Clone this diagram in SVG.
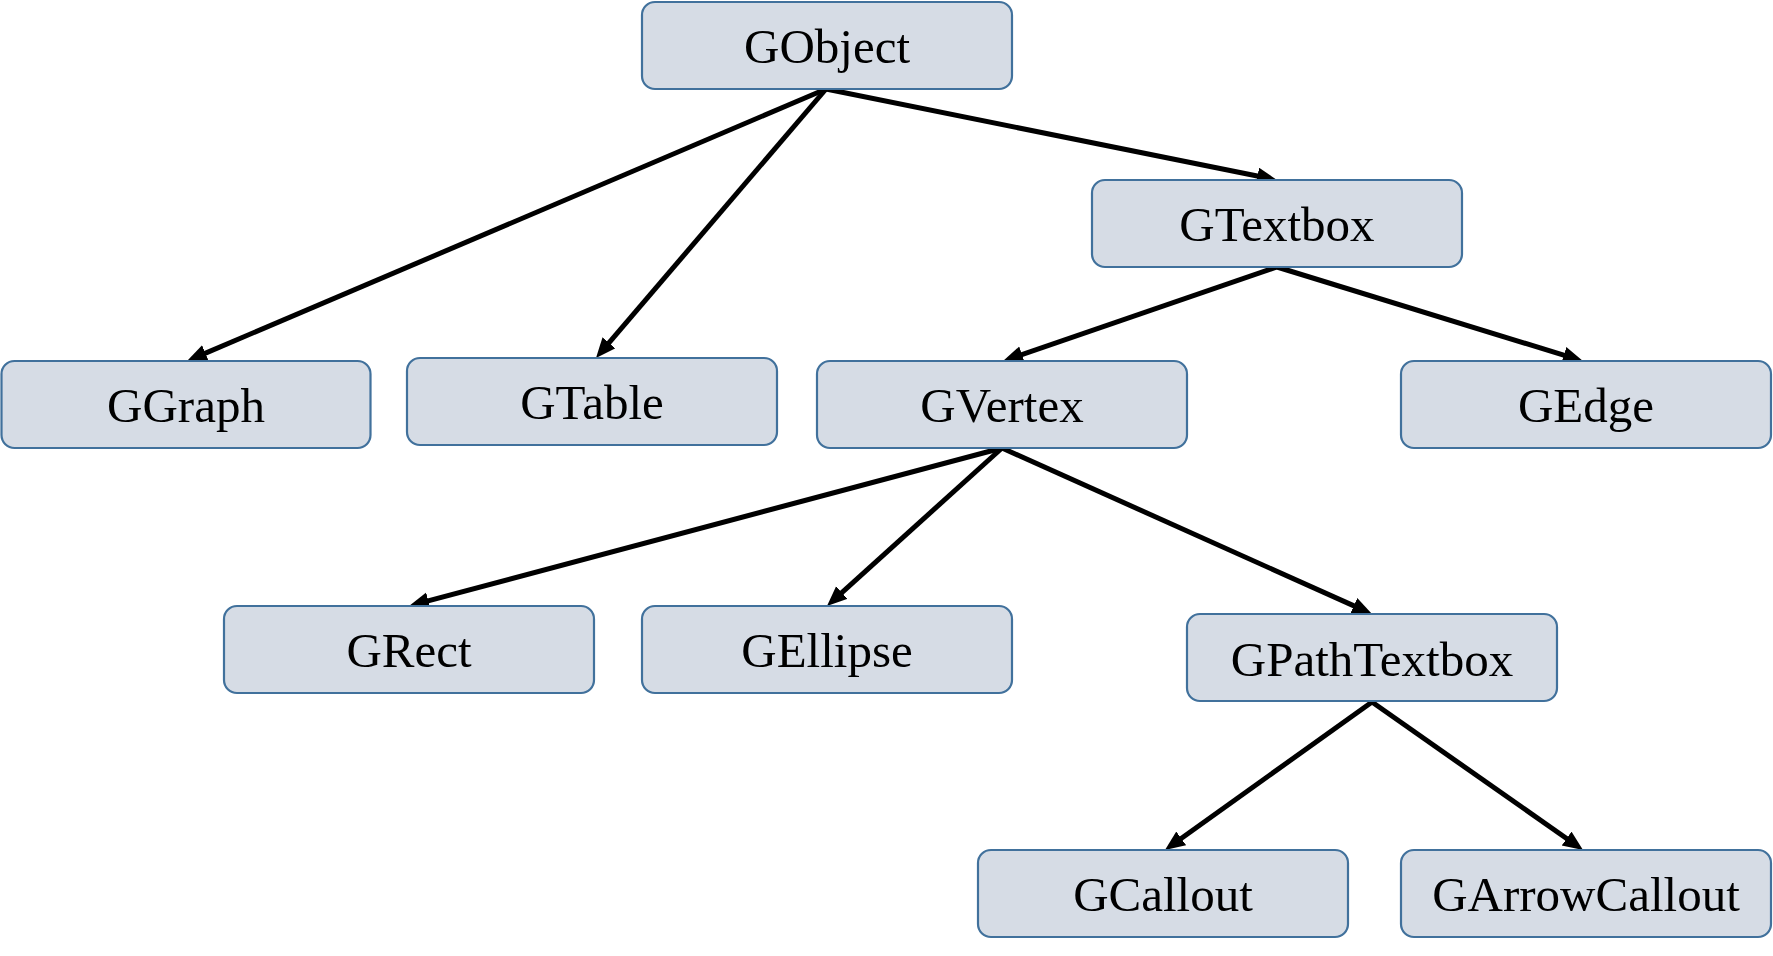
<svg xmlns="http://www.w3.org/2000/svg" width="1773" height="956" viewBox="0 0 1773 956">
<style>
.box{fill:#D6DCE5;stroke:#41719C;stroke-width:2.2}
.lbl{font-family:"Liberation Serif","Times New Roman",serif;font-size:49px;fill:#000;text-anchor:middle}
.edge{stroke:#000;stroke-width:5;fill:none}
</style>
<defs>
<marker id="ah" markerUnits="userSpaceOnUse" markerWidth="22" markerHeight="18" refX="10" refY="8.5" orient="auto">
<path d="M0,0 L20,8.5 L0,17 z" fill="#000"/>
</marker>
</defs>
<rect width="1773" height="956" fill="#fff"/>
<g id="connectors">
<line class="edge" x1="826" y1="89" x2="196.2" y2="357.1" marker-end="url(#ah)"/>
<line class="edge" x1="826" y1="89" x2="602.5" y2="350.4" marker-end="url(#ah)"/>
<line class="edge" x1="826" y1="89" x2="1267.2" y2="178" marker-end="url(#ah)"/>
<line class="edge" x1="1277" y1="267" x2="1012.5" y2="357.8" marker-end="url(#ah)"/>
<line class="edge" x1="1277" y1="267" x2="1573.4" y2="358.1" marker-end="url(#ah)"/>
<line class="edge" x1="1002" y1="448" x2="418.7" y2="603.4" marker-end="url(#ah)"/>
<line class="edge" x1="1002" y1="448" x2="834.4" y2="599.3" marker-end="url(#ah)"/>
<line class="edge" x1="1002" y1="448" x2="1362.9" y2="609.9" marker-end="url(#ah)"/>
<line class="edge" x1="1372" y1="702" x2="1173.1" y2="844.2" marker-end="url(#ah)"/>
<line class="edge" x1="1372" y1="702" x2="1574.8" y2="844.3" marker-end="url(#ah)"/>
</g>
<g id="GObject"><rect class="box" x="642" y="2" width="370" height="87" rx="13"/><text class="lbl" x="827" y="63">GObject</text></g>
<g id="GTextbox"><rect class="box" x="1092" y="180" width="370" height="87" rx="13"/><text class="lbl" x="1277" y="241">GTextbox</text></g>
<g id="GGraph"><rect class="box" x="1.5" y="361" width="369" height="87" rx="13"/><text class="lbl" x="186" y="422">GGraph</text></g>
<g id="GTable"><rect class="box" x="407" y="358" width="370" height="87" rx="13"/><text class="lbl" x="592" y="419">GTable</text></g>
<g id="GVertex"><rect class="box" x="817" y="361" width="370" height="87" rx="13"/><text class="lbl" x="1002" y="422">GVertex</text></g>
<g id="GEdge"><rect class="box" x="1401" y="361" width="370" height="87" rx="13"/><text class="lbl" x="1586" y="422">GEdge</text></g>
<g id="GRect"><rect class="box" x="224" y="606" width="370" height="87" rx="13"/><text class="lbl" x="409" y="667">GRect</text></g>
<g id="GEllipse"><rect class="box" x="642" y="606" width="370" height="87" rx="13"/><text class="lbl" x="827" y="667">GEllipse</text></g>
<g id="GPathTextbox"><rect class="box" x="1187" y="614" width="370" height="87" rx="13"/><text class="lbl" x="1372" y="676">GPathTextbox</text></g>
<g id="GCallout"><rect class="box" x="978" y="850" width="370" height="87" rx="13"/><text class="lbl" x="1163" y="911">GCallout</text></g>
<g id="GArrowCallout"><rect class="box" x="1401" y="850" width="370" height="87" rx="13"/><text class="lbl" x="1586" y="911">GArrowCallout</text></g>
</svg>
